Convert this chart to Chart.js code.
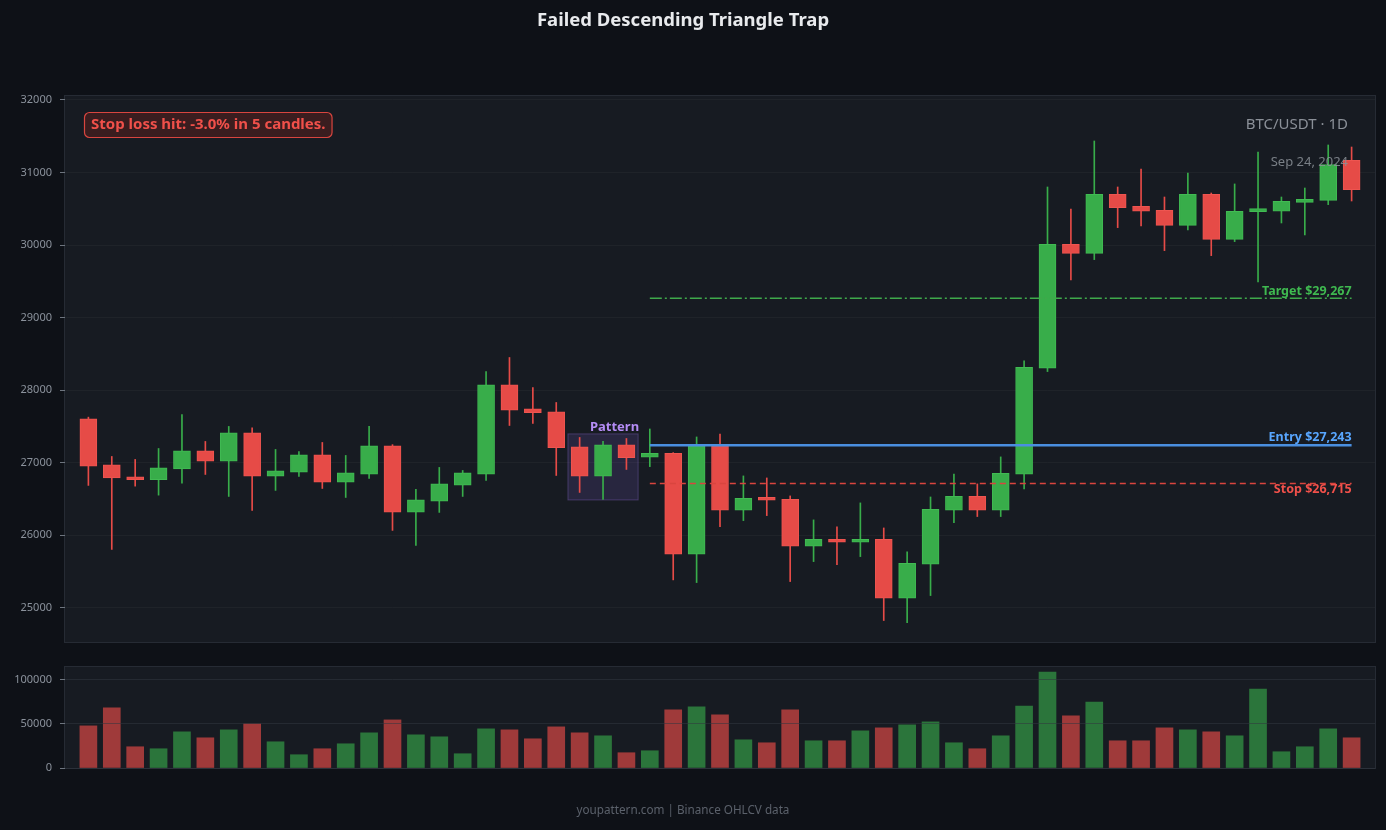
<!DOCTYPE html>
<html>
<head>
<meta charset="utf-8">
<title>Failed Descending Triangle Trap</title>
<script src="https://cdn.jsdelivr.net/npm/chart.js@4.4.0/dist/chart.umd.min.js"></script>
<style>
  html, body { margin: 0; padding: 0; background: #0e1117; }
  #wrap { position: relative; width: 1386px; height: 830px; font-family: "Noto Sans", sans-serif; overflow: hidden; }
  #title { position: absolute; top: 6px; left: 0; width: 1366px; text-align: center; color: #e8eaed; font-weight: bold; font-size: 18.5px; }
  #footer { position: absolute; top: 801px; left: 0; width: 1366px; text-align: center; color: #5b616b; font-size: 11.7px; }
  #price { position: absolute; left: 0; top: 0; }
  #volume { position: absolute; left: 0; top: 650px; }
</style>
</head>
<body>
<div id="wrap">
  <canvas id="price" width="1386" height="650"></canvas>
  <canvas id="volume" width="1386" height="180"></canvas>
  <div id="title">Failed Descending Triangle Trap</div>
  <div id="footer">youpattern.com | Binance OHLCV data</div>
</div>
<script>
// OHLCV (velas diarias)
const opens = [27606, 26972, 26807, 26766, 26917, 27165, 27023, 27413, 26816, 26871, 27110, 26734, 26844, 27234, 26320,
  26472, 26692, 26844, 28075, 27744, 27703, 27220, 26816, 27248, 27076, 27131, 25739, 27237, 26346, 26511,
  26497, 25850, 25946, 25905, 25946, 25133, 25601, 26346, 26539, 26346, 26842, 28303, 30011, 29887, 30700,
  30535, 30480, 30273, 30700, 30080, 30461, 30466, 30590, 30617, 31169];
const highs = [27629, 27087, 27046, 27197, 27666, 27294, 27501, 27482, 27184, 27156, 27280, 27101, 27501, 27250, 26633,
  26936, 26894, 28258, 28451, 28038, 27831, 27349, 27294, 27335, 27466, 27140, 27356, 27397, 26819, 26791,
  26543, 26213, 26116, 26447, 26102, 25772, 26529, 26846, 26709, 27081, 28404, 30801, 30498, 31435, 30801,
  31049, 30663, 30994, 30718, 30843, 31283, 30663, 30787, 31380, 31352];
const lows = [26688, 25806, 26678, 26554, 26720, 26839, 26536, 26343, 26619, 26812, 26646, 26522, 26784, 26068, 25861,
  26316, 26536, 26757, 27514, 27542, 26825, 26591, 26495, 26908, 26947, 25386, 25349, 26121, 26203, 26272,
  25363, 25638, 25597, 25707, 24826, 24798, 25170, 26176, 26259, 26259, 26640, 28257, 29520, 29800, 30241,
  30264, 29924, 30209, 29855, 30048, 29492, 30305, 30140, 30558, 30608];
const closes = [26954, 26793, 26766, 26931, 27165, 27023, 27413, 26816, 26890, 27110, 26734, 26862, 27234, 26320, 26490,
  26711, 26862, 28075, 27726, 27689, 27207, 26816, 27248, 27069, 27131, 25739, 27237, 26346, 26511, 26483,
  25850, 25946, 25905, 25946, 25133, 25615, 26359, 26539, 26346, 26856, 28316, 30011, 29887, 30700, 30516,
  30466, 30273, 30700, 30080, 30466, 30484, 30604, 30631, 31109, 30764];
const volumes = [47560, 67790, 23970, 21720, 40820, 34080, 43070, 49810, 29590, 14980, 21720, 27340, 39700, 54300, 37450,
  35200, 16100, 44190, 43070, 32960, 46440, 39700, 36330, 17230, 19470, 65540, 68910, 59920, 31830, 28460,
  65540, 30710, 30710, 41940, 45310, 48690, 52060, 28460, 21720, 36330, 70030, 108230, 58800, 74530, 30710,
  30710, 45310, 43070, 40820, 36330, 89130, 18350, 23970, 44190, 34080];

// Niveles de la operación
const ENTRY = 27243;
const STOP = 26715;
const TARGET = 29267;
const LEVEL_START = 24;   // vela de entrada
const LEVEL_END = 54;

// Zona del patrón (velas 21-23)
const PATTERN_FIRST = 21;
const PATTERN_LAST = 23;
const PATTERN_LOW = 26488;
const PATTERN_HIGH = 27398;

// Ticks
const priceTicks = [25000, 26000, 27000, 28000, 29000, 30000, 31000, 32000];
const volumeTicks = [0, 50000, 100000];

const RED = '#e64b47';
const RED_EDGE = '#ee5550';
const GREEN = '#38ad4a';
const GREEN_EDGE = '#41bb53';
const TICK_COLOR = '#8b929c';
const FONT = '"Noto Sans", sans-serif';

const up = opens.map((o, i) => closes[i] >= o);

// Fondo y borde del área de trazado
const plotBg = {
  id: 'plotBg',
  beforeDraw(chart) {
    const { ctx, chartArea: a } = chart;
    ctx.save();
    ctx.fillStyle = '#171b22';
    ctx.fillRect(a.left, a.top, a.right - a.left, a.bottom - a.top);
    ctx.strokeStyle = '#262b34';
    ctx.lineWidth = 1;
    ctx.strokeRect(a.left - 0.5, a.top - 0.5, a.right - a.left + 1, a.bottom - a.top + 1);
    ctx.restore();
  }
};

// Anotaciones del gráfico de precio
const annotations = {
  id: 'annotations',
  beforeDatasetsDraw(chart) {
    const { ctx, scales: { x, y } } = chart;
    const x0 = x.getPixelForValue(PATTERN_FIRST - 0.5);
    const x1 = x.getPixelForValue(PATTERN_LAST + 0.5);
    const y0 = y.getPixelForValue(PATTERN_HIGH);
    const y1 = y.getPixelForValue(PATTERN_LOW);
    ctx.save();
    ctx.fillStyle = 'rgba(120, 90, 200, 0.18)';
    ctx.fillRect(x0, y0, x1 - x0, y1 - y0);
    ctx.strokeStyle = 'rgba(140, 110, 210, 0.35)';
    ctx.lineWidth = 1;
    ctx.strokeRect(x0, y0, x1 - x0, y1 - y0);
    ctx.font = 'bold 13px ' + FONT;
    ctx.fillStyle = '#b48cf5';
    ctx.textAlign = 'right';
    ctx.textBaseline = 'bottom';
    ctx.fillText('Pattern', x1 + 1, y0);
    ctx.restore();
  },
  afterDatasetsDraw(chart) {
    const { ctx, chartArea: a, scales: { x, y } } = chart;
    const xr = x.getPixelForValue(LEVEL_END);
    ctx.save();
    ctx.font = 'bold 12.5px ' + FONT;
    ctx.textAlign = 'right';
    ctx.textBaseline = 'middle';
    ctx.fillStyle = '#3fb950';
    ctx.fillText('Target $29,267', xr, y.getPixelForValue(TARGET) - 7);
    ctx.fillStyle = '#58a6ff';
    ctx.fillText('Entry $27,243', xr, y.getPixelForValue(ENTRY) - 8);
    ctx.fillStyle = '#f0504a';
    ctx.fillText('Stop $26,715', xr, y.getPixelForValue(STOP) + 6);

    // Cuadro de stop loss
    ctx.font = 'bold 15px ' + FONT;
    ctx.textAlign = 'left';
    ctx.textBaseline = 'middle';
    const msg = 'Stop loss hit: -3.0% in 5 candles.';
    const w = ctx.measureText(msg).width + 13;
    const bx = a.left + 19, by = a.top + 16;
    ctx.beginPath();
    ctx.roundRect(bx + 0.5, by + 0.5, w, 25, 5);
    ctx.fillStyle = '#3a1d1f';
    ctx.fill();
    ctx.strokeStyle = '#d9453f';
    ctx.lineWidth = 1.2;
    ctx.stroke();
    ctx.fillStyle = '#f0504a';
    ctx.fillText(msg, bx + 7, by + 13);

    // Par y fecha
    ctx.textAlign = 'right';
    ctx.fillStyle = '#8b9098';
    ctx.font = '15px ' + FONT;
    ctx.fillText('BTC/USDT · 1D', a.right - 27, a.top + 29);
    ctx.fillStyle = 'rgba(139, 144, 152, 0.85)';
    ctx.font = '13px ' + FONT;
    ctx.fillText('Sep 24, 2024', a.right - 27, a.top + 66);
    ctx.restore();
  }
};

// Eje Y de ancho fijo y sin relleno extra, para alinear ambos paneles
const fixedAxis = scale => {
  scale.width = 65;
  scale.paddingTop = 0;
  scale.paddingBottom = 0;
};

const priceChart = new Chart(document.getElementById('price'), {
  type: 'bar',
  data: {
    datasets: [
      {
        label: 'wick',
        data: opens.map((_, i) => ({ x: i, y: [lows[i], highs[i]] })),
        backgroundColor: up.map(u => u ? GREEN : RED),
        barThickness: 1,
        grouped: false,
        order: 3
      },
      {
        label: 'body',
        data: opens.map((o, i) => ({ x: i, y: [o, closes[i]] })),
        backgroundColor: up.map(u => u ? GREEN : RED),
        borderColor: up.map(u => u ? GREEN_EDGE : RED_EDGE),
        borderWidth: 1,
        borderSkipped: false,
        barThickness: 17,
        minBarLength: 3,
        grouped: false,
        order: 2
      },
      {
        type: 'line',
        label: 'target',
        data: [{ x: LEVEL_START, y: TARGET }, { x: LEVEL_END, y: TARGET }],
        borderColor: '#3fa94b',
        borderWidth: 1.5,
        borderDash: [12, 3, 2, 3],
        pointRadius: 0,
        order: 1
      },
      {
        type: 'line',
        label: 'entry',
        data: [{ x: LEVEL_START, y: ENTRY }, { x: LEVEL_END, y: ENTRY }],
        borderColor: '#4a8fe0',
        borderWidth: 2.5,
        pointRadius: 0,
        order: 1
      },
      {
        type: 'line',
        label: 'stop',
        data: [{ x: LEVEL_START, y: STOP }, { x: LEVEL_END, y: STOP }],
        borderColor: '#d9453f',
        borderWidth: 1.5,
        borderDash: [6, 4],
        pointRadius: 0,
        order: 1
      }
    ]
  },
  options: {
    responsive: false,
    animation: false,
    layout: { padding: { left: 0, right: 11, top: 96, bottom: 8 } },
    plugins: { legend: { display: false }, tooltip: { enabled: false } },
    scales: {
      x: { type: 'linear', min: -1, max: 55, offset: false, display: false },
      y: {
        min: 24530,
        max: 32055,
        afterFit: fixedAxis,
        afterBuildTicks: s => { s.ticks = priceTicks.map(v => ({ value: v })); },
        ticks: { color: TICK_COLOR, font: { family: FONT, size: 11 }, padding: 8, callback: v => String(v) },
        grid: { color: 'rgba(255,255,255,0.035)', tickColor: '#6e757f', tickLength: 5 },
        border: { display: false }
      }
    }
  },
  plugins: [plotBg, annotations]
});

const volumeChart = new Chart(document.getElementById('volume'), {
  type: 'bar',
  data: {
    datasets: [{
      label: 'volume',
      data: volumes.map((v, i) => ({ x: i, y: v })),
      backgroundColor: up.map(u => u ? 'rgba(56, 173, 74, 0.62)' : 'rgba(230, 75, 71, 0.66)'),
      barThickness: 17,
      grouped: false
    }]
  },
  options: {
    responsive: false,
    animation: false,
    layout: { padding: { left: 0, right: 11, top: 17, bottom: 62 } },
    plugins: { legend: { display: false }, tooltip: { enabled: false } },
    scales: {
      x: { type: 'linear', min: -1, max: 55, offset: false, display: false },
      y: {
        min: 0,
        max: 114000,
        afterFit: fixedAxis,
        afterBuildTicks: s => { s.ticks = volumeTicks.map(v => ({ value: v })); },
        ticks: { color: TICK_COLOR, font: { family: FONT, size: 11 }, padding: 8, callback: v => String(v) },
        grid: { color: 'rgba(50, 55, 64, 0.55)', tickColor: '#6e757f', tickLength: 5, z: 1 },
        border: { display: false }
      }
    }
  },
  plugins: [plotBg]
});
</script>
</body>
</html>
